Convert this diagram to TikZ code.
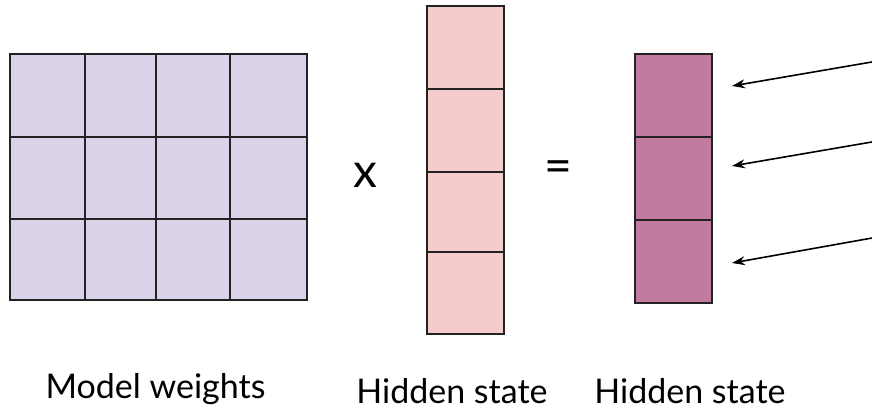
\documentclass[tikz,border=0pt]{standalone}
\usepackage{fontspec}
\setmainfont{Lato}
\usetikzlibrary{arrows.meta}
\definecolor{wfill}{HTML}{D9D2E9}
\definecolor{hfill}{HTML}{F4CCCC}
\definecolor{ofill}{HTML}{C27BA0}
\definecolor{edge}{HTML}{222222}
\begin{document}
\begin{tikzpicture}[x=1pt,y=-1pt,
  cellw/.style={draw=edge,line width=2pt,fill=wfill},
  cellh/.style={draw=edge,line width=2pt,fill=hfill},
  cello/.style={draw=edge,line width=2pt,fill=ofill,inner sep=0pt,minimum width=77pt,minimum height=83pt},
  lbl/.style={font=\fontsize{34}{40}\selectfont,anchor=base,inner sep=0pt},
  op/.style={font=\fontsize{48}{56}\selectfont,inner sep=0pt},
  ptr/.style={-{Stealth[length=13pt,width=9pt]},line width=1.6pt,draw=black}]
\useasboundingbox (0,0) rectangle (872,409);
\fill[white] (0,0) rectangle (872,409);
% model weights grid
\foreach \xa/\xb in {10/85,85/156,156/230,230/307}{
  \foreach \ya/\yb in {54/137,137/219,219/300}{
    \path[cellw] (\xa,\ya) rectangle (\xb,\yb);
  }
}
\draw[edge,line width=2.6pt] (10,54) rectangle (307,300);
% hidden state vector
\foreach \ya/\yb in {6/89,89/172,172/252,252/334}{
  \path[cellh] (427,\ya) rectangle (504,\yb);
}
% output vector
\node[cello] (o1) at (673.5,95.5) {};
\node[cello] (o2) at (673.5,178.5) {};
\node[cello] (o3) at (673.5,261.5) {};
% operators
\node[op,anchor=base] (times) at (365,187) {x};
\node[op] (eq) at (558,172) {=};
% arrows
\coordinate (s1) at (880,60.6);
\coordinate (s2) at (880,140.6);
\coordinate (s3) at (880,236.6);
\coordinate (e1) at (732,86);
\coordinate (e2) at (732,166);
\coordinate (e3) at (732,263);
\draw[ptr] (s1) -- (e1);
\draw[ptr] (s2) -- (e2);
\draw[ptr] (s3) -- (e3);
% labels
\node[lbl] (lw) at (155.5,398) {Model weights};
\node[lbl] (lh) at (452,403) {Hidden state};
\node[lbl] (lo) at (690,403) {Hidden state};
\end{tikzpicture}
\end{document}
